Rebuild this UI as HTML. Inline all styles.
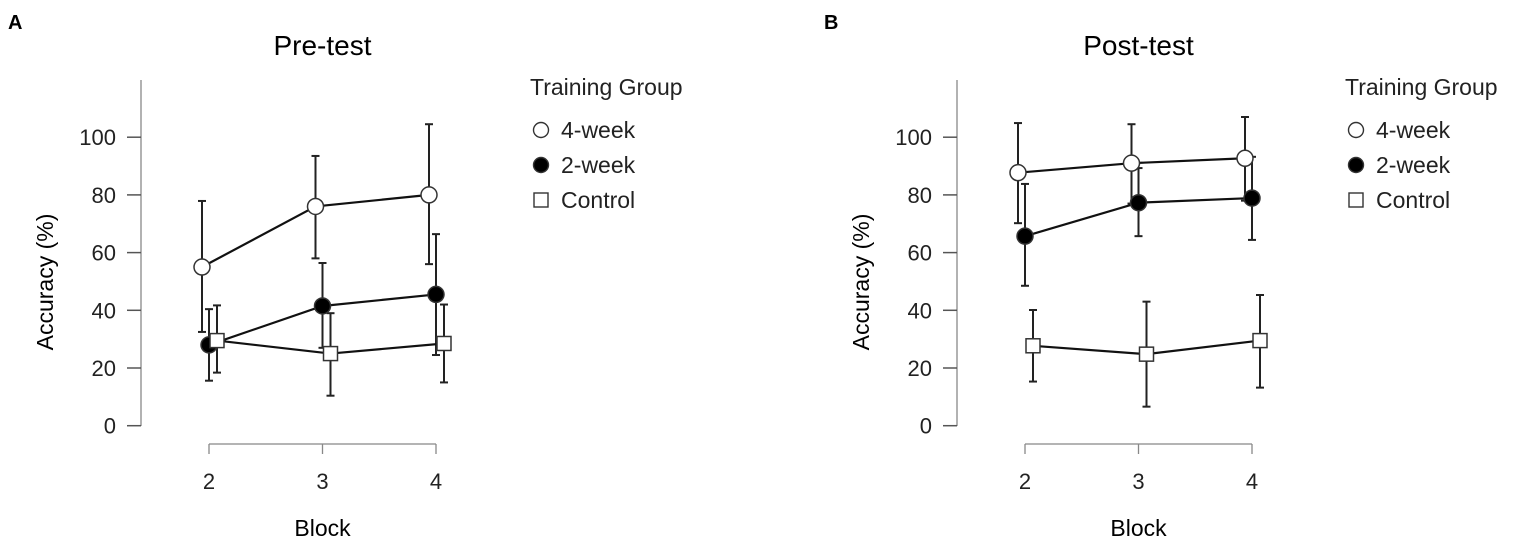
<!DOCTYPE html>
<html><head><meta charset="utf-8"><style>
body{margin:0;background:#fff;}
svg{display:block;font-family:"Liberation Sans",Arial,sans-serif;}
</style></head><body>
<svg id="chart" width="1535" height="544" viewBox="0 0 1535 544"></svg>
<script>
const categories = ["2","3","4"];
const yTicks = [0,20,40,60,80,100];
const groups = ["4-week","2-week","Control"];
// Pre-test
const preMean = [[55,76,80],[28,41.5,45.5],[29.5,25,28.5]];
const preLo = [[32.5,58,56],[15.6,27,24.5],[18.4,10.4,15]];
const preHi = [[77.9,93.5,104.5],[40.4,56.4,66.4],[41.7,39,42]];
// Post-test
const postMean = [[87.7,91,92.7],[65.7,77.3,78.9],[27.7,24.8,29.5]];
const postLo = [[70.2,77,78],[48.5,65.7,64.4],[15.3,6.6,13.2]];
const postHi = [[104.9,104.5,107],[83.8,89.3,93.2],[40.1,43,45.3]];

const NS="http://www.w3.org/2000/svg";
const svg=document.getElementById('chart');
function mk(tag,attrs,parent,text){const e=document.createElementNS(NS,tag);for(const k in attrs)e.setAttribute(k,attrs[k]);if(text!==undefined)e.textContent=text;(parent||svg).appendChild(e);return e;}

function panel(ox,letter,title,mean,lo,hi,legX){
  const g=mk('g',{});
  
  
  const axX=ox+141, x0=ox+209, x1=ox+436;
  const y=v=>425.7-2.885*v;
  const x=i=>x0+(x1-x0)*i/(categories.length-1);
  const offs=[-7,0,8];
  const L=mk('text',{x:ox+8,y:29,'font-size':20,'font-weight':'bold'},g,letter);
  
  const T=mk('text',{x:(x0+x1)/2,y:55,'font-size':28,'text-anchor':'middle'},g,title);
  
  const ya=mk('line',{x1:axX,y1:80,x2:axX,y2:426,stroke:'#888','stroke-width':1.3},g);
  
  yTicks.forEach(t=>{
    mk('line',{x1:axX-14,y1:y(t),x2:axX,y2:y(t),stroke:'#555','stroke-width':1.5},g);
    const tl=mk('text',{x:axX-25,y:y(t)+8,'font-size':22,'text-anchor':'end',fill:'#222'},g,t);
    
  });
  const yt=mk('text',{x:0,y:0,'font-size':23,'text-anchor':'middle',transform:`translate(${ox+53},282) rotate(-90)`},g,'Accuracy (%)');
  
  const xa=mk('line',{x1:x0,y1:444,x2:x1,y2:444,stroke:'#888','stroke-width':1.3},g);
  
  categories.forEach((c,i)=>{
    mk('line',{x1:x(i),y1:444,x2:x(i),y2:454,stroke:'#888','stroke-width':1.3},g);
    const tl=mk('text',{x:x(i),y:489,'font-size':22,'text-anchor':'middle',fill:'#222'},g,c);
    
  });
  const xt=mk('text',{x:(x0+x1)/2,y:536,'font-size':23,'text-anchor':'middle'},g,'Block');
  
  groups.forEach((gr,s)=>{
    categories.forEach((c,i)=>{
      const xx=x(i)+offs[s];
      mk('line',{x1:xx,y1:y(hi[s][i]),x2:xx,y2:y(lo[s][i]),stroke:'#222','stroke-width':2},g);
      mk('line',{x1:xx-4,y1:y(hi[s][i]),x2:xx+4,y2:y(hi[s][i]),stroke:'#222','stroke-width':2},g);
      mk('line',{x1:xx-4,y1:y(lo[s][i]),x2:xx+4,y2:y(lo[s][i]),stroke:'#222','stroke-width':2},g);
    });
  });
  groups.forEach((gr,s)=>{
    const pts=categories.map((c,i)=>`${x(i)+offs[s]},${y(mean[s][i])}`).join(' ');
    const pl=mk('polyline',{points:pts,fill:'none',stroke:'#111','stroke-width':2.2},g);
    
    
  });
  groups.forEach((gr,s)=>{
    categories.forEach((c,i)=>{
      const xx=x(i)+offs[s],yy=y(mean[s][i]);
      let m;
      if(s===2) m=mk('rect',{x:xx-7,y:yy-7,width:14,height:14,fill:'#fff',stroke:'#333','stroke-width':1.5},g);
      else m=mk('circle',{cx:xx,cy:yy,r:8,fill:s===0?'#fff':'#000',stroke:'#333','stroke-width':1.5},g);
      
      
    });
  });
  const lg=mk('g',{},g);
  
  mk('text',{x:legX,y:95,'font-size':23,fill:'#222'},lg,'Training Group');
  groups.forEach((gr,s)=>{
    const yy=130+s*35;
    if(s===2) mk('rect',{x:legX+4,y:yy-7,width:14,height:14,fill:'#fff',stroke:'#333','stroke-width':1.4},lg);
    else mk('circle',{cx:legX+11,cy:yy,r:7.5,fill:s===0?'#fff':'#000',stroke:'#333','stroke-width':1.4},lg);
    const t=mk('text',{x:legX+31,y:yy+8,'font-size':23,fill:'#222'},lg,gr);
    
  });
}
panel(0,'A','Pre-test',preMean,preLo,preHi,530);
panel(816,'B','Post-test',postMean,postLo,postHi,1345);
</script>
</body></html>
